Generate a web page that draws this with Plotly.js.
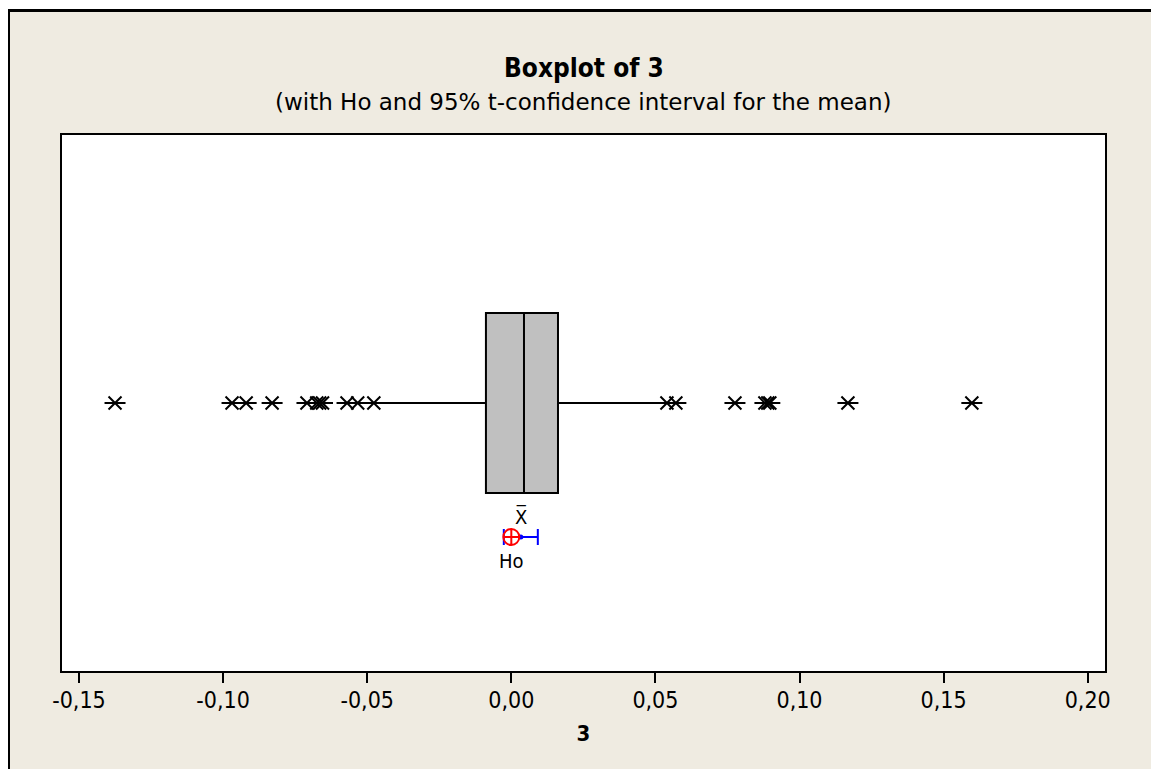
<!DOCTYPE html>
<html>
<head>
<meta charset="utf-8">
<script src="https://cdn.plot.ly/plotly-3.0.1.min.js"></script>
<style>
  html, body { margin: 0; padding: 0; background: #ffffff; }
  #chart { position: absolute; left: 0; top: 0; width: 1151px; height: 769px; }
  .mask { position: absolute; background: #ffffff; pointer-events: none; }
  .frame { position: absolute; background: #000000; pointer-events: none; }
</style>
</head>
<body>
<div id="chart"></div>
<div class="mask" style="left:0;top:0;width:1151px;height:9px;"></div>
<div class="mask" style="left:0;top:0;width:8px;height:769px;"></div>
<div class="frame" style="left:8px;top:9px;width:1143px;height:3px;"></div>
<div class="frame" style="left:8px;top:9px;width:2px;height:760px;"></div>
<script>
// ---- data ----
const q1 = -0.0088;
const median = 0.0044;
const q3 = 0.0162;
const whiskerLow = -0.0470;
const whiskerHigh = 0.0535;
const outliersLow = [-0.1375, -0.0969, -0.0920, -0.0830, -0.0709, -0.0675, -0.0665, -0.0655, -0.0570, -0.0533, -0.0477];
const outliersHigh = [0.0540, 0.0571, 0.0776, 0.0880, 0.0890, 0.0897, 0.1168, 0.1598];
const meanValue = 0.0033;
const ciLow = -0.0026;
const ciHigh = 0.0092;
const hoValue = 0.0;
const tickValues = [-0.15, -0.10, -0.05, 0.00, 0.05, 0.10, 0.15, 0.20];
const tickLabels = ['-0,15', '-0,10', '-0,05', '0,00', '0,05', '0,10', '0,15', '0,20'];

// ---- layout constants (positions, not data) ----
const boxY = 0.5;
const ciY = 0.25;
const FONT = '"DejaVu Sans Condensed", "DejaVu Sans", "Liberation Sans", sans-serif';
const FONT_REG = '"DejaVu Sans", "Liberation Sans", sans-serif';

const outliers = outliersLow.concat(outliersHigh);
const outY = outliers.map(() => boxY);

const traces = [
  {
    type: 'box',
    orientation: 'h',
    y: [boxY],
    q1: [q1], median: [median], q3: [q3],
    lowerfence: [whiskerLow], upperfence: [whiskerHigh],
    width: 0.336,
    whiskerwidth: 0,
    fillcolor: '#C0C0C0',
    line: { color: '#000000', width: 2 },
    boxpoints: false,
    hoverinfo: 'skip',
    showlegend: false
  },
  {
    type: 'scatter', mode: 'markers',
    x: outliers, y: outY,
    marker: { symbol: 'x-thin-open', size: 13, color: '#000000', line: { color: '#000000', width: 2 } },
    hoverinfo: 'x', showlegend: false
  },
  {
    type: 'scatter', mode: 'markers',
    x: outliers, y: outY,
    marker: { symbol: 'line-ew-open', size: 15, color: '#000000', line: { color: '#000000', width: 2 } },
    hoverinfo: 'skip', showlegend: false
  },
  {
    type: 'scatter', mode: 'markers',
    x: [meanValue], y: [ciY],
    error_x: { type: 'data', symmetric: false, array: [ciHigh - meanValue], arrayminus: [meanValue - ciLow], color: '#0000FF', thickness: 2, width: 8 },
    marker: { symbol: 'circle', size: 5, color: '#0000FF' },
    hoverinfo: 'x', showlegend: false
  },
  {
    type: 'scatter', mode: 'markers',
    x: [hoValue], y: [ciY],
    marker: { symbol: 'circle-cross-open', size: 16, color: '#FF0000', line: { color: '#FF0000', width: 2 } },
    hoverinfo: 'x', showlegend: false
  }
];

const layout = {
  width: 1151, height: 769,
  paper_bgcolor: '#EFEBE1',
  plot_bgcolor: '#FFFFFF',
  separators: ', ',
  margin: { l: 62, r: 46, t: 135, b: 98 },
  font: { family: FONT, color: '#000000' },
  title: { text: '' },
  xaxis: {
    range: [-0.1559, 0.2060],
    tickvals: tickValues,
    ticktext: tickLabels,
    ticks: 'outside', ticklen: 10, tickwidth: 2, tickcolor: '#000000',
    ticklabelstandoff: -3,
    tickfont: { size: 23, family: FONT, color: '#000000' },
    showgrid: false, zeroline: false,
    showline: true, mirror: true, linecolor: '#000000', linewidth: 2,
    title: { text: '<b>3</b>', font: { size: 22, family: FONT }, standoff: 14 }
  },
  yaxis: {
    range: [0, 1],
    showticklabels: false, ticks: '',
    showgrid: false, zeroline: false,
    showline: true, mirror: true, linecolor: '#000000', linewidth: 2
  },
  annotations: [
    { xref: 'paper', yref: 'paper', x: 0.5, y: 1, yshift: 67, text: '<b>Boxplot of 3</b>', showarrow: false, font: { size: 26, family: FONT }, yanchor: 'middle' },
    { xref: 'paper', yref: 'paper', x: 0.5, y: 1, yshift: 33, text: '(with Ho and 95% t-confidence interval for the mean)', showarrow: false, font: { size: 23, family: FONT_REG }, yanchor: 'middle' },
    { xref: 'x', yref: 'y', x: meanValue, y: ciY, yshift: 21, text: 'X\u0305', showarrow: false, font: { size: 20, family: FONT }, yanchor: 'middle' },
    { xref: 'x', yref: 'y', x: hoValue, y: ciY, yshift: -24, text: 'Ho', showarrow: false, font: { size: 20, family: FONT }, yanchor: 'middle' }
  ]
};

Plotly.newPlot('chart', traces, layout, { displayModeBar: false, staticPlot: true });
</script>
</body>
</html>
